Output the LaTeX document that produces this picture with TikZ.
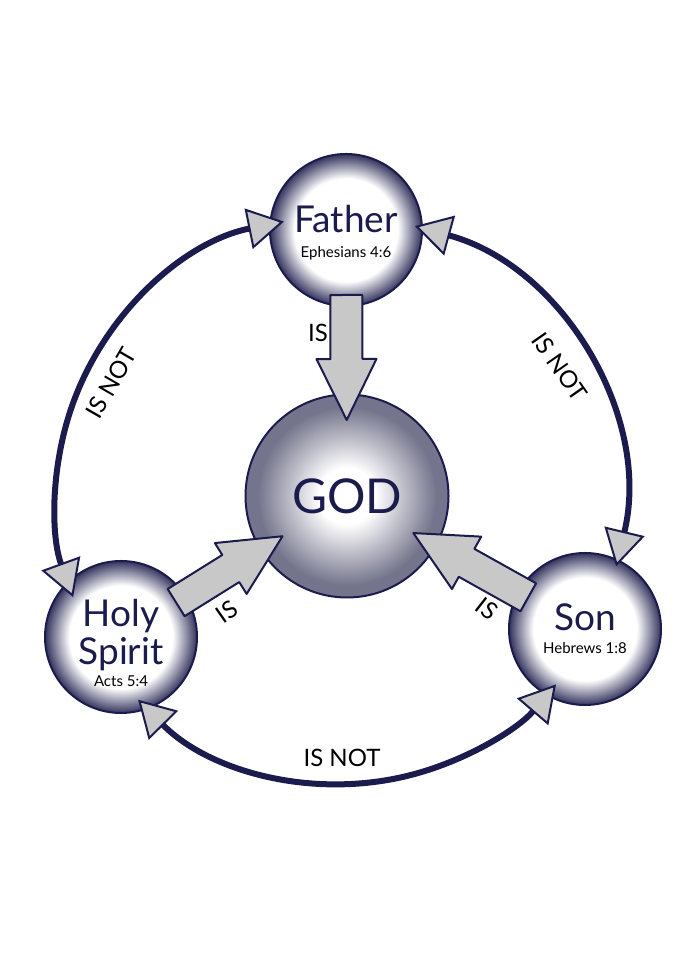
\documentclass[tikz,border=0pt]{standalone}
\usepackage{fontspec}
\setmainfont{Lato}
\usetikzlibrary{arrows.meta,calc}
\definecolor{navy}{HTML}{1B1B4D}
\definecolor{rimblue}{HTML}{34345E}
\definecolor{godgray}{HTML}{74748C}
\definecolor{arrowgray}{HTML}{C8C8C8}
\pgfdeclareradialshading{personball}{\pgfpoint{0bp}{0bp}}{color(0bp)=(white); color(17bp)=(white); color(25bp)=(rimblue); color(50bp)=(rimblue)}
\pgfdeclareradialshading{godball}{\pgfpoint{0bp}{0bp}}{color(0bp)=(white); color(7bp)=(white); color(22bp)=(godgray); color(25bp)=(godgray); color(50bp)=(godgray)}
\newcommand\namefont{\fontsize{37}{36}\selectfont}
\newcommand\versefont{\color{black}\fontsize{15}{18}\selectfont}
\begin{document}
\begin{tikzpicture}[x=1pt, y=1pt,
    person/.style={circle, draw=navy, line width=2pt, minimum size=152pt, inner sep=0pt, shade, shading=personball, align=center, text=navy, font=\namefont},
    isarrow/.style={draw=navy, fill=arrowgray, line width=2pt, line join=round},
    isnot/.style={draw=navy, line width=6pt, >={Triangle[length=36pt, width=41pt, line width=2pt, fill=arrowgray]}, <->},
    relation/.style={font=\fontsize{24}{26}\selectfont, text=black, inner sep=0pt}]
    \path[fill=white] (0,0) rectangle (700,960);
    % the three persons and God
    \node[circle, draw=navy, line width=2pt, minimum size=203pt, shade, shading=godball, text=navy, font=\fontsize{48}{50}\selectfont] (god) at (347,464) {GOD};
    \node[person] (father) at (346,730) {\rule{0pt}{32pt}Father\\[-11pt]\versefont Ephesians 4:6};
    \node[person] (spirit) at (121,323) {\rule{0pt}{40pt}Holy\\[2pt]Spirit\\[-14pt]\versefont Acts 5:4};
    \node[person] (son) at (585,331) {Son\\[-13pt]\versefont Hebrews 1:8};
    % ring
    \coordinate (ring) at (340,460);
    \coordinate (fatherL) at ($(ring)+(101.4:284)$);
    \coordinate (fatherR) at ($(ring)+(74.7:284)$);
    \coordinate (spiritB) at ($(ring)+(224.7:284)$);
    \draw[isnot] (fatherL) arc[start angle=101.4, end angle=200, radius=284];
    \draw[isnot] (fatherR) arc[start angle=74.7, end angle=-13.5, radius=284];
    \draw[isnot] (spiritB) arc[start angle=224.7, end angle=319.5, radius=284];
    % big arrows into God
    \foreach \src in {father, spirit, son}{
        \coordinate (tail) at ($(\src)!65pt!(god)$);
        \coordinate (tip) at ($(god)!76pt!(\src)$);
        \coordinate (neck) at ($(tip)!61pt!(tail)$);
        \draw[isarrow] ($(tail)!16pt!90:(tip)$) -- ($(neck)!16pt!90:(tip)$) -- ($(neck)!30pt!90:(tip)$) -- (tip)
            -- ($(neck)!30pt!-90:(tip)$) -- ($(neck)!16pt!-90:(tip)$) -- ($(tail)!16pt!-90:(tip)$) -- cycle;
    }
    \node[relation] (isF) at (318,627) {IS};
    \node[relation, rotate=35] (isH) at (227,348) {IS};
    \node[relation, rotate=-38] (isS) at (487,351) {IS};
    \node[relation, rotate=60] (notL) at (111,577) {IS NOT};
    \node[relation, rotate=-55] (notR) at (560,593) {IS NOT};
    \node[relation] (notB) at (342,202) {IS NOT};
\end{tikzpicture}
\end{document}
